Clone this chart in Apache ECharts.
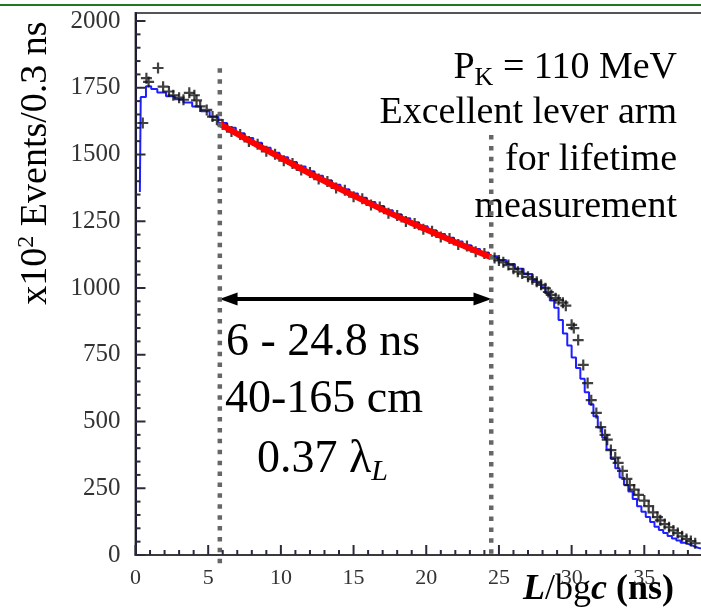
<!DOCTYPE html>
<html>
<head>
<meta charset="utf-8">
<style>
  html, body { margin: 0; padding: 0; background: #fff; overflow: hidden; }
  #chart { width: 720px; height: 610px; }
</style>
<script src="https://cdn.jsdelivr.net/npm/echarts@6/dist/echarts.min.js"></script>
</head>
<body>
<div id="chart"></div>
<script>
// 数据点 (+)
const dataPoints = [
  [0.5, 1618], [0.75, 1786], [0.9, 1772], [1.55, 1824], [1.9, 1754], [2.3, 1736],
  [2.6, 1722], [3.0, 1713], [3.3, 1705], [3.7, 1731], [4.05, 1722], [4.2, 1703],
  [4.45, 1680], [4.9, 1667], [5.3, 1642], [5.6, 1630],
  [6.0, 1612], [6.6, 1586], [7.2, 1575], [7.8, 1549], [8.4, 1538], [9.0, 1512],
  [9.6, 1501], [10.2, 1477], [10.8, 1466], [11.4, 1442], [12.0, 1433], [12.6, 1408],
  [13.2, 1399], [13.8, 1375], [14.4, 1366], [15.0, 1342], [15.6, 1334], [16.2, 1311],
  [16.8, 1303], [17.4, 1280], [18.0, 1272], [18.6, 1249], [19.2, 1242], [19.8, 1220],
  [20.4, 1213], [21.0, 1191], [21.6, 1185], [22.2, 1163], [22.8, 1157], [23.4, 1136],
  [24.0, 1129], [24.7, 1112], [25.0, 1103], [25.3, 1096], [25.65, 1086], [26.0, 1072],
  [26.3, 1061], [26.6, 1054], [27.0, 1042], [27.3, 1033], [27.6, 1023], [27.9, 1012],
  [28.2, 999], [28.4, 985], [28.6, 974], [28.9, 962], [29.1, 955], [29.4, 945],
  [29.6, 934], [30.0, 862], [30.15, 850], [30.45, 805], [30.8, 712], [31.1, 644],
  [31.35, 580], [31.7, 532], [32.0, 479], [32.3, 450], [32.45, 432], [32.7, 393],
  [33.0, 365], [33.2, 345], [33.5, 315], [33.8, 285], [34.0, 262], [34.3, 245],
  [34.6, 225], [35.0, 204], [35.3, 183], [35.6, 160], [35.9, 142], [36.1, 130],
  [36.4, 116], [36.7, 104], [37.0, 92], [37.3, 82], [37.6, 70], [37.9, 60],
  [38.2, 52], [38.5, 44]
]

// MC 直方图 (bin 左边界, 值)
const mcHist = [
  [0.3, 1360], [0.36, 1715], [0.72, 1756], [1.08, 1745], [1.5, 1732], [2.1, 1718],
  [2.7, 1707], [3.3, 1695], [3.9, 1680], [4.5, 1662], [5.1, 1641], [5.7, 1618],
  [6.3, 1600], [6.9, 1580], [7.5, 1562], [8.1, 1544], [8.7, 1525], [9.3, 1507],
  [9.9, 1490], [10.5, 1472], [11.1, 1455], [11.7, 1437], [12.3, 1420], [12.9, 1404],
  [13.5, 1387], [14.1, 1370], [14.7, 1354], [15.3, 1338], [15.9, 1322], [16.5, 1307],
  [17.1, 1291], [17.7, 1276], [18.3, 1261], [18.9, 1246], [19.5, 1231], [20.1, 1216],
  [20.7, 1202], [21.3, 1188], [21.9, 1174], [22.5, 1160], [23.1, 1146], [23.7, 1133],
  [24.3, 1119], [24.9, 1105], [25.5, 1090], [26.1, 1072], [26.7, 1052], [27.3, 1030],
  [27.6, 1018], [27.9, 1003], [28.2, 980], [28.5, 953], [28.8, 926], [29.1, 880],
  [29.4, 830], [29.7, 785], [30.0, 740], [30.3, 700], [30.6, 660], [30.9, 610],
  [31.2, 565], [31.5, 520], [31.8, 478], [32.1, 440], [32.4, 395], [32.7, 360],
  [33.0, 325], [33.3, 290], [33.6, 262], [33.9, 238], [34.2, 210], [34.5, 183],
  [34.8, 162], [35.1, 142], [35.4, 124], [35.7, 106], [36.0, 94], [36.3, 82],
  [36.6, 71], [36.9, 62], [37.2, 54], [37.5, 46], [37.8, 40], [38.1, 33],
  [38.4, 27], [38.7, 23], [39.0, 19]
]

// 拟合 (红线)
const fitLine = [[5.8, 1615], [10, 1487], [15, 1346], [20, 1219], [24.45, 1115]]

// 区间标记
const cutLow = [[5.8, 1823], [5.8, -45]]
const cutHigh = [[24.47, 1573], [24.47, -19]]
const rangeArrow = [6.4, 23.87, 959]

// 刻度
const xMajorTicks = [0, 5, 10, 15, 20, 25, 30, 35]
const xMinorTicks = [1, 2, 3, 4, 6, 7, 8, 9, 11, 12, 13, 14, 16, 17, 18, 19, 21, 22, 23, 24,
  26, 27, 28, 29, 31, 32, 33, 34, 36, 37, 38, 39]
const yMajorTicks = [0, 250, 500, 750, 1000, 1250, 1500, 1750, 2000]
const yMinorTicks = [50, 100, 150, 200, 300, 350, 400, 450, 550, 600, 650, 700, 800, 850, 900, 950,
  1050, 1100, 1150, 1200, 1300, 1350, 1400, 1450, 1550, 1600, 1650, 1700, 1800, 1850, 1900, 1950]

const serif = 'Liberation Serif'
const axisDark = '#2a2a3a'
const chart = echarts.init(document.getElementById('chart'))

// 刻度用 rect 符号画 (内侧)
function tickSeries(values, onY, len) {
  return {
    type: 'scatter',
    silent: true,
    clip: false,
    symbol: 'rect',
    symbolSize: onY ? [len, 2] : [2, len],
    symbolOffset: onY ? [len / 2, 0] : [0, -len / 2],
    itemStyle: { color: axisDark, opacity: 1 },
    data: values.map(v => (onY ? [0, v] : [v, 0])),
    z: 6
  }
}

function label(x, y, text, rich, align, extra) {
  return Object.assign({
    type: 'text',
    x: x,
    y: y,
    style: {
      text: text,
      rich: rich,
      align: align,
      verticalAlign: 'middle',
      fill: '#000',
      fontFamily: serif
    }
  }, extra || {})
}

const r38 = { fontSize: 38, fontFamily: serif, color: '#000' }
const r46 = { fontSize: 46, fontFamily: serif, color: '#000' }

const option = {
  animation: false,
  backgroundColor: '#fff',
  grid: {
    show: true,
    left: 135.5,
    right: 0,
    top: 13,
    bottom: 55,
    borderColor: '#555',
    borderWidth: 2,
    backgroundColor: 'transparent'
  },
  xAxis: {
    type: 'value',
    min: 0,
    max: 40,
    interval: 5,
    axisLine: { show: true, lineStyle: { color: '#3a3a3a', width: 2 } },
    axisTick: { show: false },
    axisLabel: {
      margin: 12,
      fontSize: 22,
      fontFamily: serif,
      color: '#333',
      formatter: v => (v < 40 ? String(v) : '')
    },
    splitLine: { show: false }
  },
  yAxis: {
    type: 'value',
    min: 0,
    max: 2030,
    interval: 250,
    axisLine: { show: true, lineStyle: { color: '#1c1c38', width: 2 } },
    axisTick: { show: false },
    axisLabel: {
      margin: 15,
      fontSize: 25,
      fontFamily: serif,
      color: '#333',
      formatter: v => (v % 250 === 0 ? String(v) : '')
    },
    splitLine: { show: false }
  },
  series: [
    {
      name: 'MC',
      type: 'line',
      step: 'end',
      symbol: 'none',
      data: mcHist,
      lineStyle: { color: '#1f1fff', width: 2 },
      z: 2
    },
    {
      name: 'data',
      type: 'scatter',
      symbol: 'path://M4,0H6V4H10V6H6V10H4V6H0V4H4Z',
      symbolSize: 11,
      data: dataPoints,
      itemStyle: { color: '#111' },
      z: 3
    },
    {
      name: 'fit',
      type: 'line',
      smooth: true,
      symbol: 'none',
      data: fitLine,
      lineStyle: { color: '#ff0000', width: 6 },
      z: 4
    },
    {
      type: 'line',
      symbol: 'none',
      clip: false,
      data: cutLow,
      lineStyle: { color: '#666', width: 4.5, type: [4.5, 6.4], cap: 'butt' },
      z: 5
    },
    {
      type: 'line',
      symbol: 'none',
      clip: false,
      data: cutHigh,
      lineStyle: { color: '#666', width: 4.5, type: [4.5, 6.4], cap: 'butt' },
      z: 5,
      markLine: {
        silent: true,
        symbol: ['triangle', 'triangle'],
        symbolSize: [13, 18],
        label: { show: false },
        lineStyle: { color: '#000', width: 4, type: 'solid' },
        data: [[
          { coord: [rangeArrow[0], rangeArrow[2]] },
          { coord: [rangeArrow[1], rangeArrow[2]] }
        ]]
      }
    },
    tickSeries(xMajorTicks, false, 10),
    tickSeries(xMinorTicks, false, 5),
    tickSeries(yMajorTicks, true, 10),
    tickSeries(yMinorTicks, true, 5)
  ],
  graphic: [
    { type: 'rect', shape: { x: 0, y: 4, width: 720, height: 2 }, style: { fill: '#1f7a1f' } },
    label(36, 163, '{r|x10}{sup|2}{r| Events/0.3 ns}', {
      r: r38,
      sup: { fontSize: 24, fontFamily: serif, color: '#000', padding: [0, 0, 18, 0] }
    }, 'center', { rotation: Math.PI / 2 }),
    label(677, 68, '{r|P}{sub|K}{r| = 110 MeV}', {
      r: r38,
      sub: { fontSize: 26, fontFamily: serif, color: '#000', padding: [20, 0, 0, 0] }
    }, 'right'),
    label(677, 113, '{r|Excellent lever arm}', { r: r38 }, 'right'),
    label(677, 160, '{r|for lifetime}', { r: r38 }, 'right'),
    label(677, 207, '{r|measurement}', { r: r38 }, 'right'),
    label(226, 343, '{r|6 - 24.8 ns}', { r: r46 }, 'left'),
    label(225, 400, '{r|40-165 cm}', { r: r46 }, 'left'),
    label(257, 460, '{r|0.37 λ}{sub|L}', {
      r: r46,
      sub: { fontSize: 30, fontFamily: serif, fontStyle: 'italic', color: '#000', padding: [24, 0, 0, 0] }
    }, 'left'),
    label(523, 590, '{bi|L}{r|/bg}{bi|c}{b| (ns)}', {
      bi: { fontSize: 36, fontFamily: serif, fontStyle: 'italic', fontWeight: 'bold', color: '#000' },
      r: { fontSize: 36, fontFamily: serif, color: '#000' },
      b: { fontSize: 36, fontFamily: serif, fontWeight: 'bold', color: '#000' }
    }, 'left')
  ]
}

chart.setOption(option)
</script>
</body>
</html>
